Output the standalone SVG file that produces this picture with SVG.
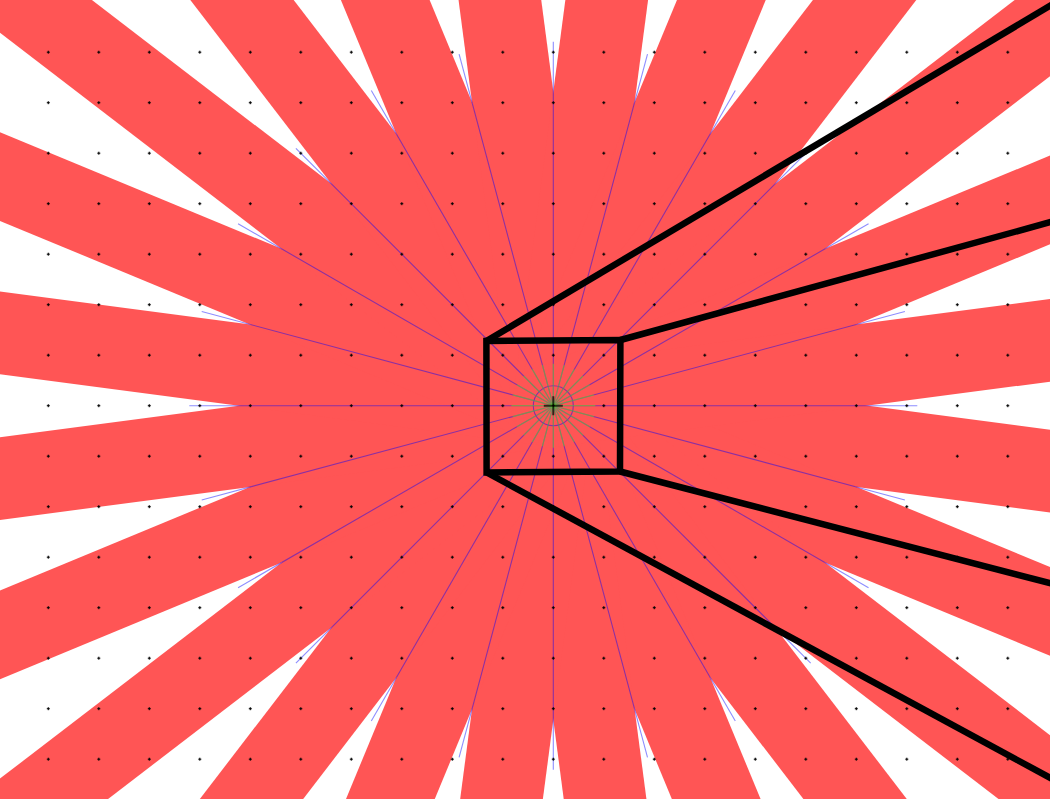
<svg xmlns="http://www.w3.org/2000/svg" width="1050" height="799" viewBox="0 0 1050 799">
  <style>
    .ray { fill: #ff5555; }
    .guide { stroke: #0000ff; stroke-opacity: 0.45; stroke-width: 1.1; fill: none; }
    .short { stroke: #66ff00; stroke-opacity: 0.45; stroke-width: 1.2; }
    .frame { stroke: #000; stroke-width: 6.5; fill: none; stroke-linejoin: miter; }
    .dot { stroke: #000; stroke-width: 1.2; }
  </style>
  <defs>
    <rect id="ray" class="ray" x="0" y="-41" width="1100" height="82"/>
    <line id="guide" class="guide" x1="0" y1="0" x2="364" y2="0"/>
    <line id="short" class="short" x1="0" y1="0" x2="42" y2="0"/>
    <pattern id="dots" patternUnits="userSpaceOnUse" x="23.05" y="26.95" width="50.5" height="50.5">
      <path class="dot" d="M23.75 25.25h3M25.25 23.75v3"/>
    </pattern>
  </defs>
  <rect width="1050" height="799" fill="#fff"/>
  <g id="rays" transform="translate(553.3 405.7)">
    <use href="#ray" transform="rotate(7.5)"/>
    <use href="#ray" transform="rotate(22.5)"/>
    <use href="#ray" transform="rotate(37.5)"/>
    <use href="#ray" transform="rotate(52.5)"/>
    <use href="#ray" transform="rotate(67.5)"/>
    <use href="#ray" transform="rotate(82.5)"/>
    <use href="#ray" transform="rotate(97.5)"/>
    <use href="#ray" transform="rotate(112.5)"/>
    <use href="#ray" transform="rotate(127.5)"/>
    <use href="#ray" transform="rotate(142.5)"/>
    <use href="#ray" transform="rotate(157.5)"/>
    <use href="#ray" transform="rotate(172.5)"/>
    <use href="#ray" transform="rotate(187.5)"/>
    <use href="#ray" transform="rotate(202.5)"/>
    <use href="#ray" transform="rotate(217.5)"/>
    <use href="#ray" transform="rotate(232.5)"/>
    <use href="#ray" transform="rotate(247.5)"/>
    <use href="#ray" transform="rotate(262.5)"/>
    <use href="#ray" transform="rotate(277.5)"/>
    <use href="#ray" transform="rotate(292.5)"/>
    <use href="#ray" transform="rotate(307.5)"/>
    <use href="#ray" transform="rotate(322.5)"/>
    <use href="#ray" transform="rotate(337.5)"/>
    <use href="#ray" transform="rotate(352.5)"/>
  </g>
  <g id="guides" transform="translate(553.3 405.7)">
    <use href="#guide" transform="rotate(0)"/>
    <use href="#guide" transform="rotate(15)"/>
    <use href="#guide" transform="rotate(30)"/>
    <use href="#guide" transform="rotate(45)"/>
    <use href="#guide" transform="rotate(60)"/>
    <use href="#guide" transform="rotate(75)"/>
    <use href="#guide" transform="rotate(90)"/>
    <use href="#guide" transform="rotate(105)"/>
    <use href="#guide" transform="rotate(120)"/>
    <use href="#guide" transform="rotate(135)"/>
    <use href="#guide" transform="rotate(150)"/>
    <use href="#guide" transform="rotate(165)"/>
    <use href="#guide" transform="rotate(180)"/>
    <use href="#guide" transform="rotate(195)"/>
    <use href="#guide" transform="rotate(210)"/>
    <use href="#guide" transform="rotate(225)"/>
    <use href="#guide" transform="rotate(240)"/>
    <use href="#guide" transform="rotate(255)"/>
    <use href="#guide" transform="rotate(270)"/>
    <use href="#guide" transform="rotate(285)"/>
    <use href="#guide" transform="rotate(300)"/>
    <use href="#guide" transform="rotate(315)"/>
    <use href="#guide" transform="rotate(330)"/>
    <use href="#guide" transform="rotate(345)"/>
    <circle class="guide" cx="0" cy="0" r="20" stroke-opacity="0.3"/>
  </g>
  <g id="center-lines" transform="translate(553.3 405.7)">
    <use href="#short" transform="rotate(0)"/>
    <use href="#short" transform="rotate(15)"/>
    <use href="#short" transform="rotate(30)"/>
    <use href="#short" transform="rotate(45)"/>
    <use href="#short" transform="rotate(60)"/>
    <use href="#short" transform="rotate(75)"/>
    <use href="#short" transform="rotate(90)"/>
    <use href="#short" transform="rotate(105)"/>
    <use href="#short" transform="rotate(120)"/>
    <use href="#short" transform="rotate(135)"/>
    <use href="#short" transform="rotate(150)"/>
    <use href="#short" transform="rotate(165)"/>
    <use href="#short" transform="rotate(180)"/>
    <use href="#short" transform="rotate(195)"/>
    <use href="#short" transform="rotate(210)"/>
    <use href="#short" transform="rotate(225)"/>
    <use href="#short" transform="rotate(240)"/>
    <use href="#short" transform="rotate(255)"/>
    <use href="#short" transform="rotate(270)"/>
    <use href="#short" transform="rotate(285)"/>
    <use href="#short" transform="rotate(300)"/>
    <use href="#short" transform="rotate(315)"/>
    <use href="#short" transform="rotate(330)"/>
    <use href="#short" transform="rotate(345)"/>
  </g>
  <rect id="grid" x="23.05" y="26.95" width="1010" height="757.5" fill="url(#dots)"/>
  <path id="center-cross" d="M543.8 405.7h19M553.3 396.2v19" stroke="#000" stroke-opacity="0.7" stroke-width="2"/>
  <g id="frame">
    <polygon class="frame" points="486.4,341 620.4,340 620,471.5 486.6,472.5"/>
    <line class="frame" x1="486.4" y1="341" x2="1080" y2="-12"/>
    <line class="frame" x1="620.4" y1="340" x2="1080" y2="214"/>
    <line class="frame" x1="620" y1="471.5" x2="1080" y2="591"/>
    <line class="frame" x1="486.6" y1="472.5" x2="1080" y2="794"/>
  </g>
</svg>
